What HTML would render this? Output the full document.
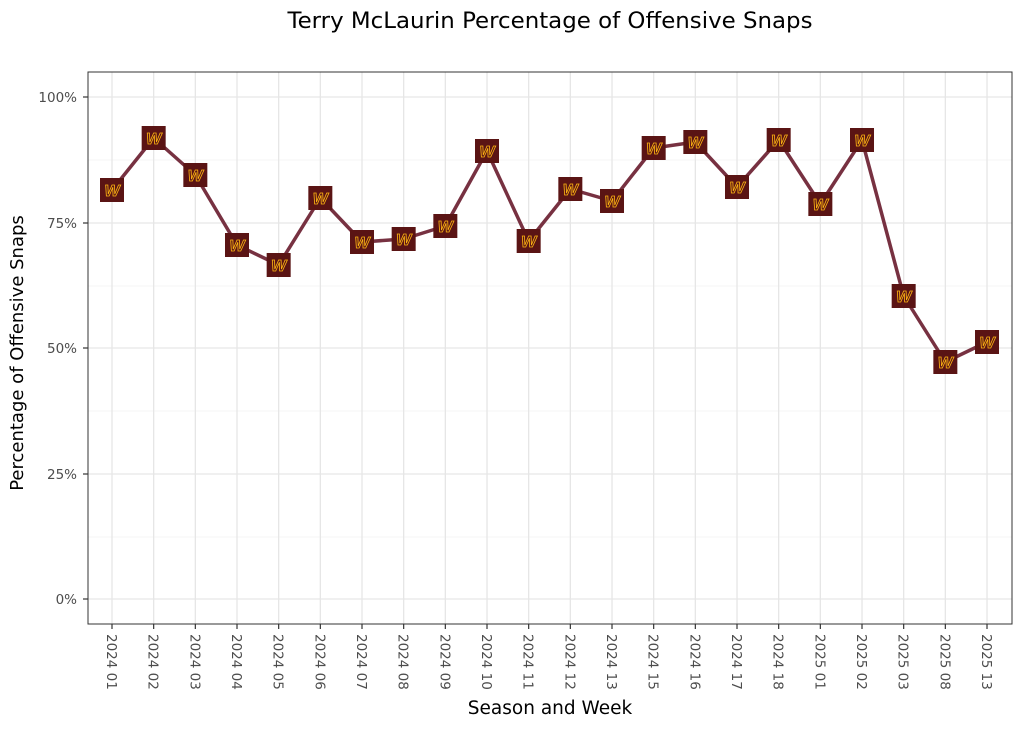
<!DOCTYPE html>
<html><head><meta charset="utf-8"><style>body{margin:0;background:#fff}svg{display:block;font-family:"DejaVu Sans","Liberation Sans",sans-serif}</style></head><body>
<svg width="1024" height="731" viewBox="0 0 1024 731" xmlns="http://www.w3.org/2000/svg">
<rect width="1024" height="731" fill="#fff"/>
<text x="550" y="28" font-size="22.5" text-anchor="middle" fill="#000" textLength="525" lengthAdjust="spacingAndGlyphs">Terry McLaurin Percentage of Offensive Snaps</text>
<g id="grid"></g>
<rect x="88" y="72" width="924" height="552" fill="none" stroke="#333" stroke-width="1"/>
<g font-size="13.5" fill="#4d4d4d" text-anchor="end">
<text x="77" y="102">100%</text><text x="77" y="228">75%</text><text x="77" y="353">50%</text><text x="77" y="479">25%</text><text x="77" y="604">0%</text>
</g>
<g stroke="#333" stroke-width="1.2"><line x1="83" x2="88" y1="97" y2="97"/><line x1="83" x2="88" y1="223" y2="223"/><line x1="83" x2="88" y1="348" y2="348"/><line x1="83" x2="88" y1="474" y2="474"/><line x1="83" x2="88" y1="599" y2="599"/></g>
<text x="23" y="353" font-size="18" text-anchor="middle" transform="rotate(-90 23 353)">Percentage of Offensive Snaps</text>
<text x="550" y="714" font-size="18.5" text-anchor="middle">Season and Week</text>
<g id="xl"></g>
<g id="series"></g>
<script>
const labels=["2024 01","2024 02","2024 03","2024 04","2024 05","2024 06","2024 07","2024 08","2024 09","2024 10","2024 11","2024 12","2024 13","2024 15","2024 16","2024 17","2024 18","2025 01","2025 02","2025 03","2025 08","2025 13"];
const ys=[190,138,175,245,265,198,242,239,226,151,241,189,201,148,142,187,140,204,140,296,362,342];
const ns="http://www.w3.org/2000/svg";
function el(t,a,p){const e=document.createElementNS(ns,t);for(const k in a)e.setAttribute(k,a[k]);p.appendChild(e);return e;}
const g=document.getElementById('grid'),xl=document.getElementById('xl'),s=document.getElementById('series');
[97,223,348,474,599].forEach(y=>el('line',{x1:88,x2:1012,y1:y,y2:y,stroke:'#e6e6e6','stroke-width':1.3},g));
[160,286,411,537].forEach(y=>el('line',{x1:88,x2:1012,y1:y,y2:y,stroke:'#f2f2f2','stroke-width':0.7},g));
let pts=[];
labels.forEach((l,i)=>{const x=112+i*41.667;pts.push(x+','+ys[i]);
el('line',{x1:x,x2:x,y1:72,y2:624,stroke:'#e6e6e6','stroke-width':1.3},g);
el('line',{x1:x,x2:x,y1:624,y2:629,stroke:'#333','stroke-width':1.2},xl);
const t=el('text',{x:x-5,y:634,'font-size':13.5,fill:'#4d4d4d',transform:`rotate(90 ${x-5} 634)`},xl);t.textContent=l;});
el('polyline',{points:pts.join(' '),fill:'none',stroke:'#773141','stroke-width':3.5,'stroke-linejoin':'round'},s);
labels.forEach((l,i)=>{const x=112+i*41.667,y=ys[i];
el('rect',{x:x-12,y:y-12,width:24,height:24,fill:'#5a1414'},s);
const t=el('text',{x:x,y:y+6,'font-size':16,'font-family':'Liberation Sans','font-weight':'bold','font-style':'italic','text-anchor':'middle',fill:'#5a1414',stroke:'#FFB612','stroke-width':0.8},s);t.textContent='W';});
</script>
</svg>
</body></html>
